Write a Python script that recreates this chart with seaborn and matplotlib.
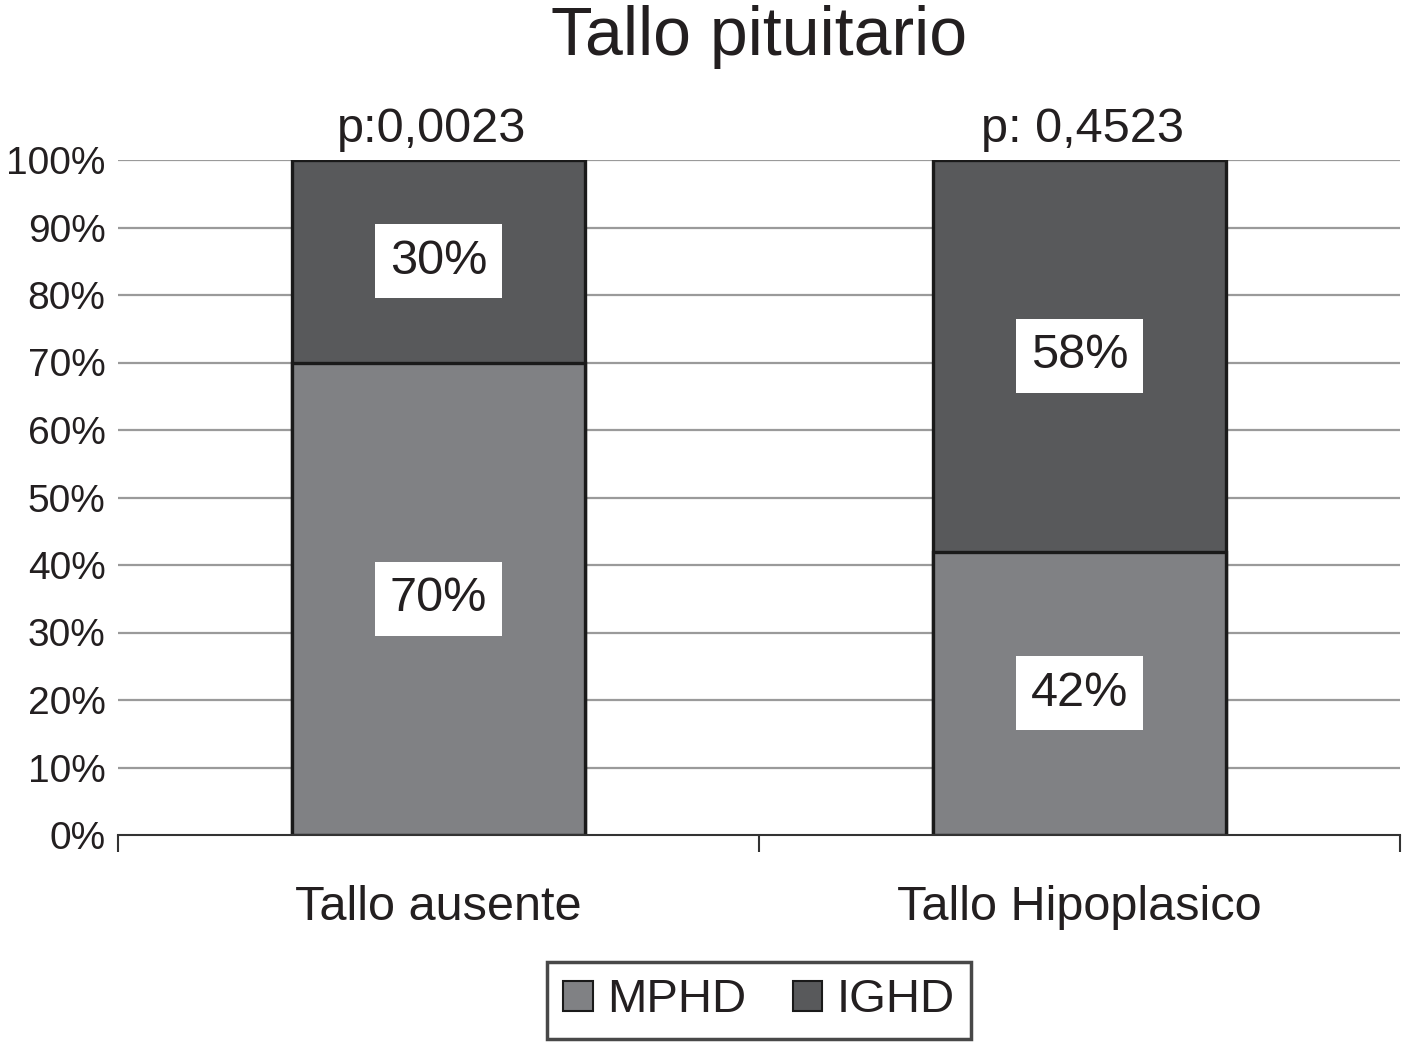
import matplotlib
matplotlib.use("Agg")
import matplotlib.pyplot as plt
import seaborn as sns
import pandas as pd
from matplotlib.patches import Patch

categories = ["Tallo ausente", "Tallo Hipoplasico"]
mphd = [70, 42]
ighd = [30, 58]
p_labels = ["p:0,0023", "p: 0,4523"]
yticks = [0, 10, 20, 30, 40, 50, 60, 70, 80, 90, 100]
title = "Tallo pituitario"

c_mphd = "#808184"
c_ighd = "#58595b"
txt = "#231f20"

sns.set_theme(style="white")
plt.rcParams["font.family"] = ["Liberation Sans", "DejaVu Sans"]

df = pd.DataFrame({"cat": categories, "MPHD": mphd, "IGHD": ighd})
df["total"] = df["MPHD"] + df["IGHD"]

fig = plt.figure(figsize=(14.02, 10.43), dpi=100)
ax = fig.add_axes([118/1402, 1-835/1043, (1400-118)/1402, 675/1043])

sns.barplot(data=df, x="cat", y="total", color=c_ighd, saturation=1, width=0.457,
            edgecolor="#1a1a1a", linewidth=2.4, ax=ax, zorder=3)
sns.barplot(data=df, x="cat", y="MPHD", color=c_mphd, saturation=1, width=0.457,
            edgecolor="#1a1a1a", linewidth=2.4, ax=ax, zorder=3)

ax.set_xlim(-0.5, 1.5)
ax.set_ylim(0, 100)
ax.set_yticks(yticks)
ax.set_yticklabels([f"{v}%" for v in yticks], fontsize=28, color=txt)
ax.tick_params(axis="y", length=0, pad=9)
ax.set_xticks([0, 1])
ax.set_xticklabels(categories, fontsize=35, color=txt)
ax.set_xticks([-0.5, 0.5, 1.5], minor=True)
ax.tick_params(axis="x", which="major", length=0, pad=36)
ax.tick_params(axis="x", which="minor", length=12, width=1.5, color="#333333", direction="out", bottom=True)
ax.set_xlabel("")
ax.set_ylabel("")

for y in yticks[1:]:
    ax.axhline(y, color="#9a9a9a", lw=1.6, zorder=1)

for s in ["left", "right", "top"]:
    ax.spines[s].set_visible(False)
ax.spines["bottom"].set_color("#333333")
ax.spines["bottom"].set_linewidth(1.5)
ax.spines["bottom"].set_zorder(4)

for i in range(len(categories)):
    ax.text(i, mphd[i] / 2, f"{mphd[i]}%", ha="center", va="center", fontsize=35, color=txt,
            zorder=5, bbox=dict(boxstyle="square,pad=0.3", fc="white", ec="none"))
    ax.text(i, mphd[i] + ighd[i] / 2, f"{ighd[i]}%", ha="center", va="center", fontsize=35, color=txt,
            zorder=5, bbox=dict(boxstyle="square,pad=0.3", fc="white", ec="none"))
    ax.annotate(p_labels[i], (i, 100), xytext=(-5 if i == 0 else 2, 6), textcoords="offset points",
                ha="center", va="bottom", fontsize=35, color=txt)

fig.text(759/1402, 1-37/1043, title, ha="center", va="center", fontsize=49, color=txt)

handles = [Patch(facecolor=c_mphd, edgecolor="#1a1a1a", lw=1.5, label="MPHD"),
           Patch(facecolor=c_ighd, edgecolor="#1a1a1a", lw=1.5, label="IGHD")]
leg = ax.legend(handles=handles, loc="upper center", bbox_to_anchor=(0.5, -0.188), ncol=2,
                fontsize=34, frameon=True, fancybox=False, edgecolor="#1a1a1a",
                handlelength=0.62, handleheight=0.62, handletextpad=0.3, columnspacing=1.0,
                borderpad=0.35, borderaxespad=0)
leg.get_frame().set_linewidth(2.5)
for t in leg.get_texts():
    t.set_color(txt)

fig.savefig("out.png", dpi=100, facecolor="white")
